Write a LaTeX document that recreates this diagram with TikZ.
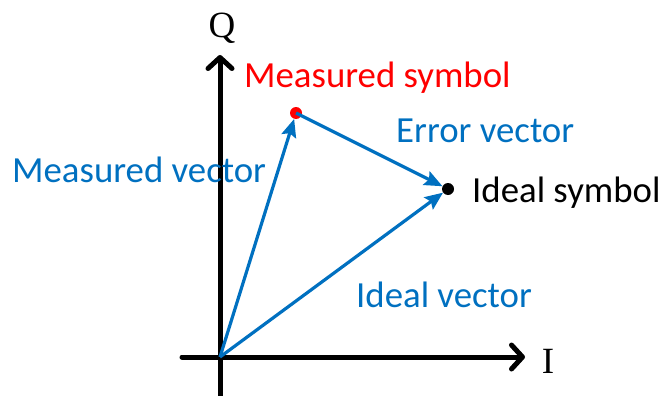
\documentclass[tikz,border=0pt]{standalone}
\usepackage{fontspec}
\setmainfont{Carlito}
\newfontfamily\serifQ{Liberation Serif}
\usetikzlibrary{arrows.meta}
\definecolor{vblue}{HTML}{0070C0}
\definecolor{vred}{HTML}{FF0000}
\tikzset{
  axisline/.style={line width=5pt, line cap=round, line join=round, -{Straight Barb[round,length=11pt,width=24pt]}},
  vecline/.style={vblue, line width=3.2pt, -{Stealth[length=18pt,width=15pt,inset=3pt]}},
  lbl/.style={inner sep=0pt, font=\fontsize{36.8}{40}\selectfont},
  axlbl/.style={inner sep=0pt, font=\serifQ\fontsize{37}{40}\selectfont},
  dotnode/.style={circle, minimum size=12pt, inner sep=0pt}
}
\begin{document}
\begin{tikzpicture}[x=1pt,y=-1pt]
\useasboundingbox (0,0) rectangle (664,396);
% axes
\coordinate (o) at (220,357);
\coordinate (ybot) at (220,398);
\coordinate (ytop) at (220,55);
\coordinate (xleft) at (182,357);
\coordinate (xright) at (525,357);
\draw[axisline] (ybot) -- (ytop);
\draw[axisline] (xleft) -- (xright);
\node[axlbl, anchor=base] (qlbl) at (222,38) {Q};
\node[axlbl, anchor=base] (ilbl) at (548,373) {I};
% symbols
\node[dotnode, fill=vred] (meas) at (296,113) {};
\node[dotnode, fill=black] (ideal) at (448,189) {};
% vectors
\draw[vecline] (o) -- (meas);
\draw[vecline] (o) -- (ideal);
\draw[vecline] (meas.center) -- (ideal);
% labels
\node[lbl, anchor=base west, text=vred] (mslbl) at (244,88) {Measured symbol};
\node[lbl, anchor=base west, text=vblue] (mvlbl) at (12,182) {Measured vector};
\node[lbl, anchor=base west, text=vblue] (evlbl) at (396,142) {Error vector};
\node[lbl, anchor=base west, text=vblue] (ivlbl) at (356,307) {Ideal vector};
\node[lbl, anchor=base west, text=black] (islbl) at (472,202) {Ideal symbol};
\end{tikzpicture}
\end{document}
